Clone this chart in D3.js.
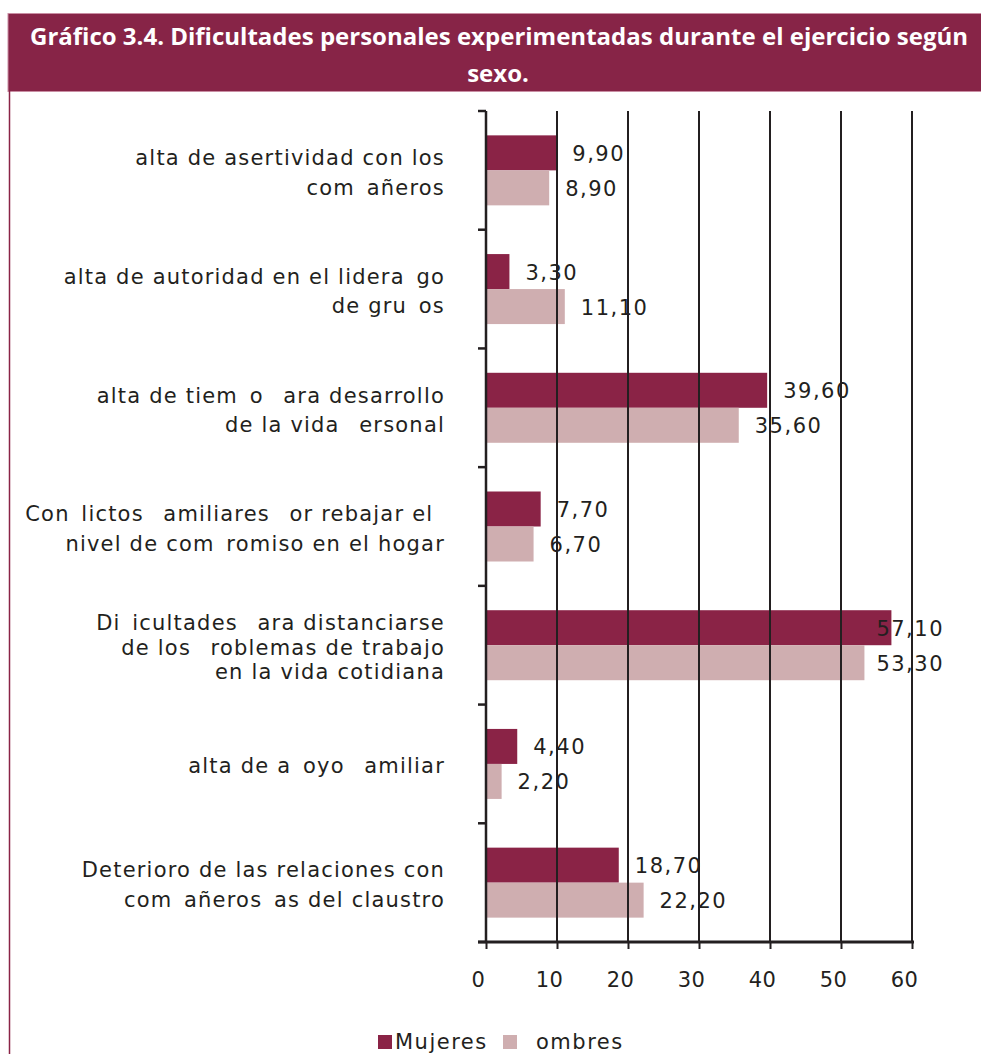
<!DOCTYPE html>
<html>
<head>
<meta charset="utf-8">
<script src="https://cdn.jsdelivr.net/npm/d3@7/dist/d3.min.js"></script>
<style>
  html, body { margin: 0; padding: 0; background: #fff; }
  svg { display: block; }
  text { white-space: pre; }
</style>
</head>
<body>
<svg id="chart" width="981" height="1054"></svg>
<script>
// ---- data ----
const categories = [
  ["alta de asertividad con los", "com\u2002añeros"],
  ["alta de autoridad en el lidera\u2002go", "de gru\u2002os"],
  ["alta de tiem\u2002o \u2002ara desarrollo", "de la vida \u2002ersonal"],
  ["Con\u2002lictos \u2002amiliares \u2002or rebajar el\u2002", "nivel de com\u2002romiso en el hogar"],
  ["Di\u2002icultades \u2002ara distanciarse", "de los \u2002roblemas de trabajo", "en la vida cotidiana"],
  ["alta de a\u2002oyo \u2002amiliar"],
  ["Deterioro de las relaciones con", "com\u2002añeros\u2002as del claustro"]
];
const seriesNames = ["Mujeres", "\u2002ombres"];
const mujeres = [9.9, 3.3, 39.6, 7.7, 57.1, 4.4, 18.7];
const hombres = [8.9, 11.1, 35.6, 6.7, 53.3, 2.2, 22.2];
const xTicks = [0, 10, 20, 30, 40, 50, 60];
const titleLines = ["Gráfico 3.4. Dificultades personales experimentadas durante el ejercicio según", "sexo."];

// ---- styles ----
const maroon = "#8a2346";
const pink = "#cfaeb0";
const ink = "#231f20";
const colors = [maroon, pink];

const svg = d3.select("#chart");

// title banner
svg.append("rect").attr("x", 8).attr("y", 13.5).attr("width", 981).attr("height", 78)
  .attr("fill", "#872447").attr("stroke", "#c98ea3").attr("stroke-width", 1);
const t1 = svg.append("text").attr("x", 30).attr("y", 45)
  .attr("fill", "#fff").attr("font-family", "'Open Sans', sans-serif").attr("font-weight", "bold")
  .attr("font-size", 24).text(titleLines[0]);
const natural = t1.node().getComputedTextLength();
const ratio = 938 / natural;
t1.attr("textLength", 938).attr("lengthAdjust", "spacingAndGlyphs");
const t2 = svg.append("text").attr("y", 82)
  .attr("fill", "#fff").attr("font-family", "'Open Sans', sans-serif").attr("font-weight", "bold")
  .attr("font-size", 24).text(titleLines[1]);
const w2 = t2.node().getComputedTextLength() * ratio;
t2.attr("x", 498 - w2 / 2).attr("textLength", w2).attr("lengthAdjust", "spacingAndGlyphs");

// left border
svg.append("line").attr("x1", 9.5).attr("x2", 9.5).attr("y1", 91).attr("y2", 1054)
  .attr("stroke", maroon).attr("stroke-width", 1.5);

// scales
const x = d3.scaleLinear().domain([0, 60]).range([486, 912]);
const y = d3.scaleBand().domain(d3.range(categories.length)).range([111, 942]).padding(0);
const ySub = d3.scaleBand().domain([0, 1]).range([0, y.bandwidth()]).paddingInner(0).paddingOuter(0.696);

const values = [mujeres, hombres];
const fmt = v => d3.format(".2f")(v).replace(".", ",");

// bars
values.forEach((vals, s) => {
  svg.append("g").selectAll("rect").data(vals).join("rect")
    .attr("x", x(0))
    .attr("y", (d, i) => y(i) + ySub(s))
    .attr("width", d => x(d) - x(0))
    .attr("height", ySub.bandwidth())
    .attr("fill", colors[s]);
});

// gridlines
svg.append("g").selectAll("line").data(xTicks.slice(1)).join("line")
  .attr("x1", d => x(d)).attr("x2", d => x(d))
  .attr("y1", 111).attr("y2", 942)
  .attr("stroke", ink).attr("stroke-width", 2);

// x axis
const xAxis = svg.append("g").attr("transform", "translate(0,942)")
  .call(d3.axisBottom(x).tickValues(xTicks).tickSize(7).tickPadding(17).tickSizeOuter(0));
xAxis.select(".domain").remove();
xAxis.append("line").attr("x1", 478).attr("x2", 914).attr("y1", 0).attr("y2", 0)
  .attr("stroke", ink).attr("stroke-width", 3);
xAxis.selectAll(".tick line").attr("stroke", ink).attr("stroke-width", 2);
xAxis.selectAll(".tick text")
  .attr("fill", ink).attr("font-family", "'DejaVu Sans', sans-serif").attr("font-size", 21)
  .attr("letter-spacing", 0.5).attr("dx", -8).attr("dy", 0).attr("y", 45);

// y axis line and ticks at band boundaries
const bounds = y.domain().map(i => y(i)).concat([y.range()[1]]);
svg.append("line").attr("x1", 486).attr("x2", 486).attr("y1", 111).attr("y2", 942)
  .attr("stroke", ink).attr("stroke-width", 2.5);
svg.append("g").selectAll("line").data(bounds).join("line")
  .attr("x1", 478).attr("x2", 486).attr("y1", d => d).attr("y2", d => d)
  .attr("stroke", ink).attr("stroke-width", 2.5);

// category labels
const labG = svg.append("g").attr("font-family", "'DejaVu Sans', sans-serif")
  .attr("font-size", 21).attr("fill", ink).attr("letter-spacing", 1.2);
categories.forEach((lines, i) => {
  const lh = lines.length === 3 ? 24.5 : 29.5;
  const cy = y(i) + y.bandwidth() / 2 + 2;
  const top = cy - (lines.length - 1) * lh / 2;
  lines.forEach((ln, k) => {
    labG.append("text").attr("x", 445).attr("y", top + k * lh + 7.5)
      .attr("text-anchor", "end").text(ln);
  });
});

// value labels (kept inside the right edge of the frame)
const rightLimit = 944;
const valG = svg.append("g").attr("font-family", "'DejaVu Sans', sans-serif")
  .attr("font-size", 21).attr("fill", ink).attr("letter-spacing", 1.5);
values.forEach((vals, s) => {
  valG.selectAll(null).data(vals).join("text")
    .attr("y", (d, i) => y(i) + ySub(s) + ySub.bandwidth() / 2 + 8)
    .text(d => fmt(d))
    .attr("x", function (d) {
      const w = this.getComputedTextLength();
      return Math.min(x(d) + 16, rightLimit - w);
    });
});

// legend
const legG = svg.append("g").attr("font-family", "'DejaVu Sans', sans-serif")
  .attr("font-size", 21).attr("fill", ink).attr("letter-spacing", 1.5);
const legX = [378, 503];
seriesNames.forEach((n, s) => {
  legG.append("rect").attr("x", legX[s]).attr("y", 1035).attr("width", 14).attr("height", 14).attr("fill", colors[s]);
  legG.append("text").attr("x", legX[s] + (s === 0 ? 17 : 21)).attr("y", 1049).text(n);
});
</script>
</body>
</html>
